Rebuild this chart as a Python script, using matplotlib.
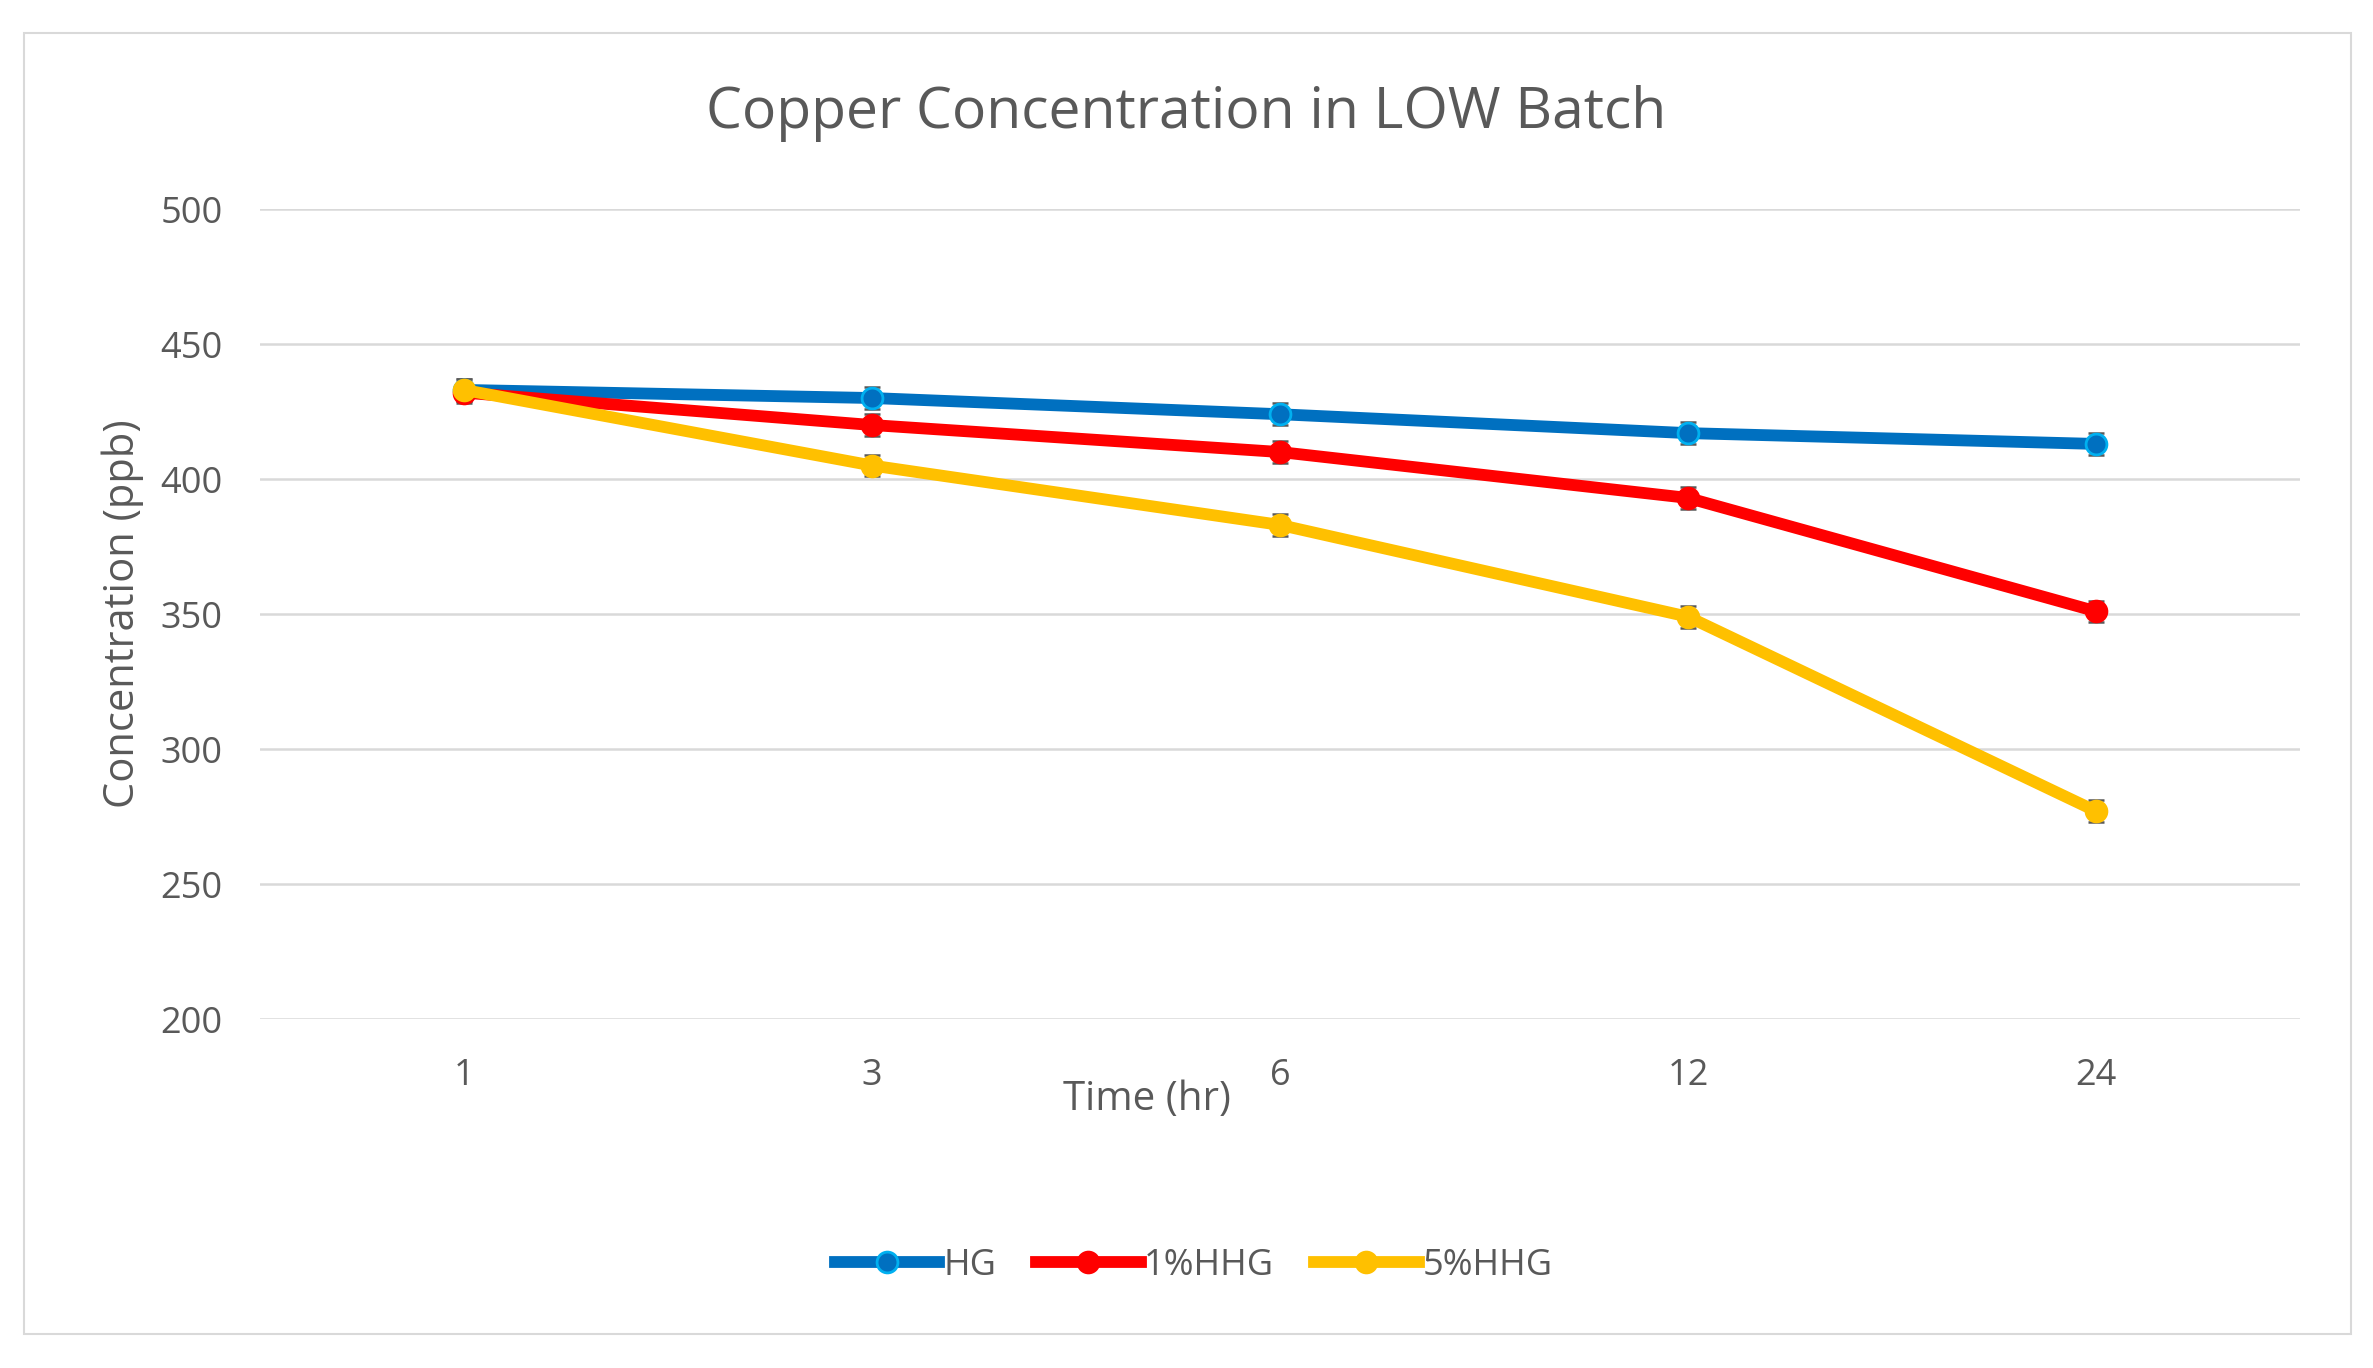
import matplotlib.pyplot as plt
from matplotlib.patches import Rectangle

plt.rcParams['font.family'] = ['Open Sans', 'DejaVu Sans']

times = ['1', '3', '6', '12', '24']
hg = [433, 430, 424, 417, 413]
hhg1 = [432, 420, 410, 393, 351]
hhg5 = [433, 405, 383, 349, 277]
hg_err = [4, 4, 4, 4, 4]
hhg1_err = [4, 4, 4, 4, 4]
hhg5_err = [4, 4, 4, 4, 4]

series = [
    ('HG', hg, hg_err, '#0070C0', '#00B0F0'),
    ('1%HHG', hhg1, hhg1_err, '#FF0000', '#FF0000'),
    ('5%HHG', hhg5, hhg5_err, '#FFC000', '#FFC000'),
]

fig = plt.figure(figsize=(23.73, 13.68), dpi=100)
ax = fig.add_axes([0.1096, 0.2551, 0.8596, 0.5921])

# outer frame like the spreadsheet chart area
fig.patches.append(Rectangle((24 / 2373, 1 - 1334 / 1368), (2351 - 24) / 2373,
                             (1334 - 33) / 1368, transform=fig.transFigure,
                             fill=False, edgecolor='#d9d9d9', linewidth=1.5))

x = list(range(len(times)))
for name, vals, err, col, mcol in series:
    ax.errorbar(x, vals, yerr=err, fmt='none', ecolor='#595959', elinewidth=1.8,
                capsize=6, capthick=1.8, zorder=2)
    ax.plot(x, vals, color=col, linewidth=8.5, marker='o', markersize=15,
            markerfacecolor=col, markeredgecolor=mcol, markeredgewidth=2,
            label=name, zorder=3)

ax.set_xlim(-0.5, len(times) - 0.5)
ax.set_ylim(200, 500)
ax.set_yticks([200, 250, 300, 350, 400, 450, 500])
ax.set_xticks(x)
ax.set_xticklabels(times)
ax.grid(axis='y', color='#d9d9d9', linewidth=1.8)
ax.set_axisbelow(True)
for s in ax.spines.values():
    s.set_visible(False)
ax.tick_params(length=0, labelsize=26, labelcolor='#595959')
ax.tick_params(axis='y', pad=27)
ax.tick_params(axis='x', pad=28)

fig.suptitle('Copper Concentration in LOW Batch', fontsize=41, color='#595959',
             x=0.5, y=1 - 114 / 1368, va='center')
ax.set_ylabel('Concentration (ppb)', fontsize=30, color='#595959')
ax.yaxis.set_label_coords(-0.057, 0.5)
ax.set_xlabel('Time (hr)', fontsize=29, color='#595959')
ax.xaxis.set_label_coords(0.435, -0.075)

ax.legend(loc='center', bbox_to_anchor=(0.503, 1 - 1266 / 1368), bbox_transform=fig.transFigure,
          ncol=3, frameon=False, fontsize=26, labelcolor='#595959', handlelength=2.9,
          handletextpad=0.1, columnspacing=1.1)

fig.savefig('out.png', dpi=100)
